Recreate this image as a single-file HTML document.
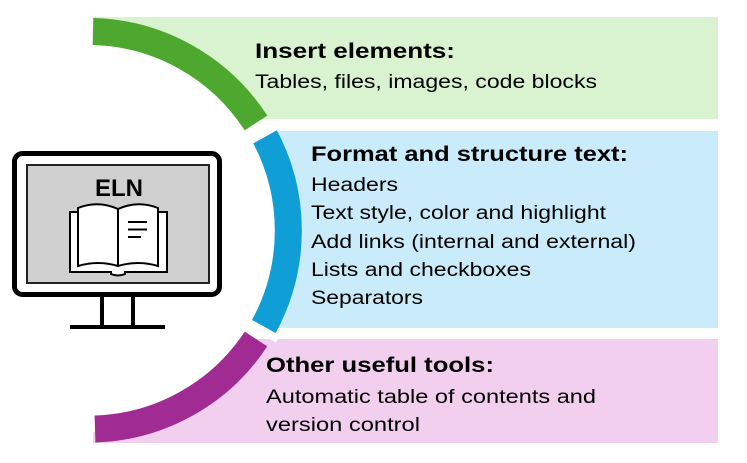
<!DOCTYPE html>
<html><head><meta charset="utf-8"><style>
html,body{margin:0;padding:0;background:#fff;width:747px;height:463px;overflow:hidden}
svg{display:block}
text{font-family:"Liberation Sans",sans-serif;fill:#000}
</style></head><body>
<svg width="747" height="463" viewBox="0 0 747 463" xmlns="http://www.w3.org/2000/svg">
<rect x="93" y="17" width="625" height="102" fill="#d9f2d0"/>
<rect x="93" y="131" width="625" height="197" fill="#c9ebfa"/>
<rect x="93" y="339" width="625" height="104" fill="#f2cfee"/>
<circle cx="85" cy="232" r="200" fill="#fff"/>
<rect x="0" y="0" width="93" height="463" fill="#fff"/>
<g fill="none" stroke-width="27">
<path d="M 93 31.5 A 200.5 200.5 0 0 1 256 123" stroke="#4ea72e"/>
<path d="M 263 133 A 200.5 200.5 0 0 1 263 328" stroke="#0f9ed5"/>
<path d="M 256 339 A 200.5 200.5 0 0 1 95 429" stroke="#a02b93"/>
</g>
<line x1="244" y1="144" x2="278" y2="125" stroke="#fff" stroke-width="8"/>
<line x1="244" y1="320" x2="278" y2="339" stroke="#fff" stroke-width="8"/>
<rect x="14.5" y="153.5" width="205" height="141" rx="8" fill="#fff" stroke="#000" stroke-width="5"/>
<rect x="27" y="165" width="182" height="118" fill="#d0d0d0" stroke="#222" stroke-width="2"/>
<rect x="100" y="297" width="4" height="28" fill="#000"/>
<rect x="131" y="297" width="4" height="28" fill="#000"/>
<rect x="70" y="325" width="95" height="4" fill="#000"/>
<text x="119" y="196" font-size="24" font-weight="bold" text-anchor="middle">ELN</text>
<rect x="70" y="212" width="97" height="60" fill="#fff" stroke="#000" stroke-width="2"/>
<path d="M118 209 Q98 200 78 208 L78 266 Q98 260 118 266 Q138 260 158 266 L158 208 Q138 200 118 209 Z" fill="#fff" stroke="#000" stroke-width="2"/>
<line x1="118" y1="209" x2="118" y2="266" stroke="#000" stroke-width="2"/>
<path d="M111 271 L111 274 Q118 277 125 274 L125 271" fill="#fff" stroke="#000" stroke-width="2"/>
<g stroke="#000" stroke-width="2"><line x1="128" y1="222" x2="147" y2="222"/><line x1="128" y1="229.5" x2="147" y2="229.5"/><line x1="128" y1="237" x2="141" y2="237"/></g>
<text x="255" y="58" font-size="21" font-weight="bold" textLength="200" lengthAdjust="spacingAndGlyphs">Insert elements:</text>
<text x="255" y="88" font-size="19" textLength="342" lengthAdjust="spacingAndGlyphs">Tables, files, images, code blocks</text>
<text x="311" y="161" font-size="21" font-weight="bold" textLength="317" lengthAdjust="spacingAndGlyphs">Format and structure text:</text>
<text x="311" y="191" font-size="19" textLength="87" lengthAdjust="spacingAndGlyphs">Headers</text>
<text x="311" y="219" font-size="19" textLength="295" lengthAdjust="spacingAndGlyphs">Text style, color and highlight</text>
<text x="311" y="248" font-size="19" textLength="325" lengthAdjust="spacingAndGlyphs">Add links (internal and external)</text>
<text x="311" y="276" font-size="19" textLength="220" lengthAdjust="spacingAndGlyphs">Lists and checkboxes</text>
<text x="311" y="304" font-size="19" textLength="112" lengthAdjust="spacingAndGlyphs">Separators</text>
<text x="266" y="372" font-size="21" font-weight="bold" textLength="228" lengthAdjust="spacingAndGlyphs">Other useful tools:</text>
<text x="266" y="403" font-size="19" textLength="330" lengthAdjust="spacingAndGlyphs">Automatic table of contents and</text>
<text x="266" y="431" font-size="19" textLength="154" lengthAdjust="spacingAndGlyphs">version control</text>
</svg>
</body></html>
